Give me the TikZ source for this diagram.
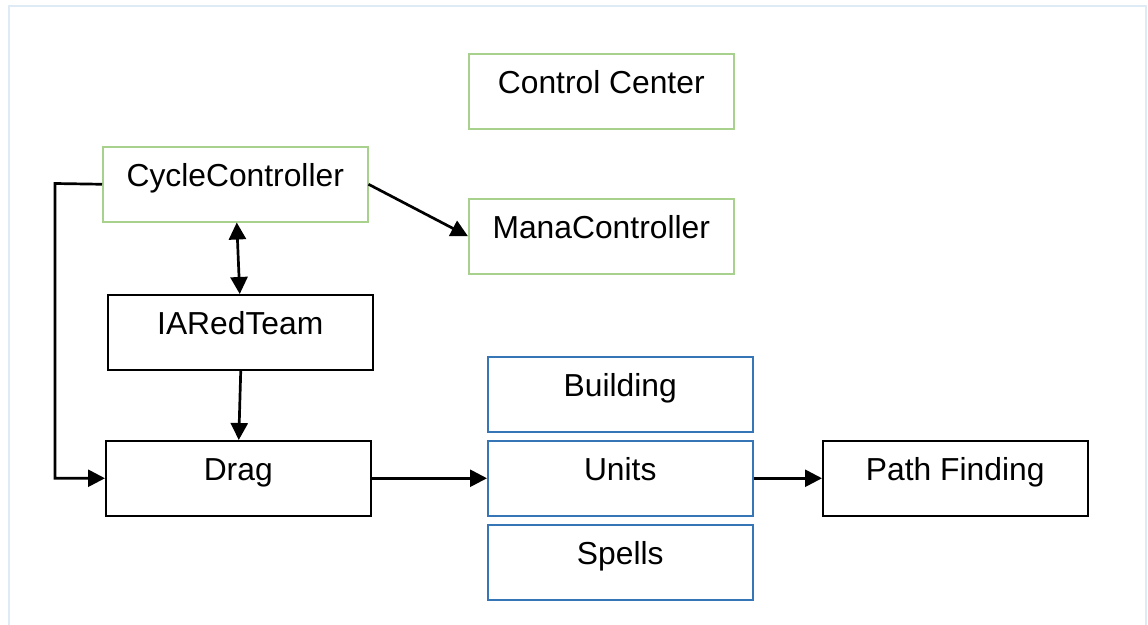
\documentclass[tikz,border=0pt]{standalone}
\usepackage{fontspec}
\setmainfont{Liberation Sans}
\usetikzlibrary{arrows.meta}
\definecolor{boxgreen}{RGB}{169,209,142}
\definecolor{boxblue}{RGB}{54,118,183}
\definecolor{framecol}{RGB}{222,234,246}
\tikzset{
  box/.style={draw, line width=1.5pt, rectangle, anchor=north west,
    minimum width=265pt, inner sep=0pt, text height=40pt, text depth=35pt,
    font=\fontsize{31.8}{38}\selectfont},
  gbox/.style={box, draw=boxgreen},
  bbox/.style={box, draw=boxblue},
  kbox/.style={box, draw=black},
  conn/.style={line width=2.7pt, -{Triangle[length=17pt,width=17pt]}},
  dconn/.style={line width=2.7pt,
    {Triangle[length=17pt,width=17pt]}-{Triangle[length=17pt,width=17pt]}}
}
\begin{document}
\begin{tikzpicture}[x=1pt,y=-1pt]
  \useasboundingbox (0,0) rectangle (1148,624);
  % outer frame
  \draw[framecol, line width=1.6pt] (9,6) rectangle (1146,640);

  % controllers
  \node[gbox] (center) at (468,53) {Control Center};
  \node[gbox] (cycle) at (102,146) {CycleController};
  \node[gbox] (mana) at (468,198) {ManaController};

  % AI and input
  \node[kbox] (ia) at (107,294) {IARedTeam};
  \node[kbox] (drag) at (105,440) {Drag};

  % game objects
  \node[bbox] (building) at (487,356) {Building};
  \node[bbox] (units) at (487,440) {Units};
  \node[bbox] (spells) at (487,524) {Spells};

  \node[kbox] (path) at (822,440) {Path Finding};

  % connectors
  \coordinate (bend) at (55,183.5);
  \draw[conn] (cycle.west) -- (bend) |- (drag.west);
  \draw[conn] (cycle.east) -- (mana.west);
  \draw[dconn] ([xshift=1.5pt]cycle.south) -- ([xshift=-0.5pt]ia.north);
  \draw[conn] ([xshift=0.5pt]ia.south) -- ([xshift=0.5pt]drag.north);
  \draw[conn] (drag.east) -- (units.west);
  \draw[conn] (units.east) -- (path.west);
\end{tikzpicture}
\end{document}
